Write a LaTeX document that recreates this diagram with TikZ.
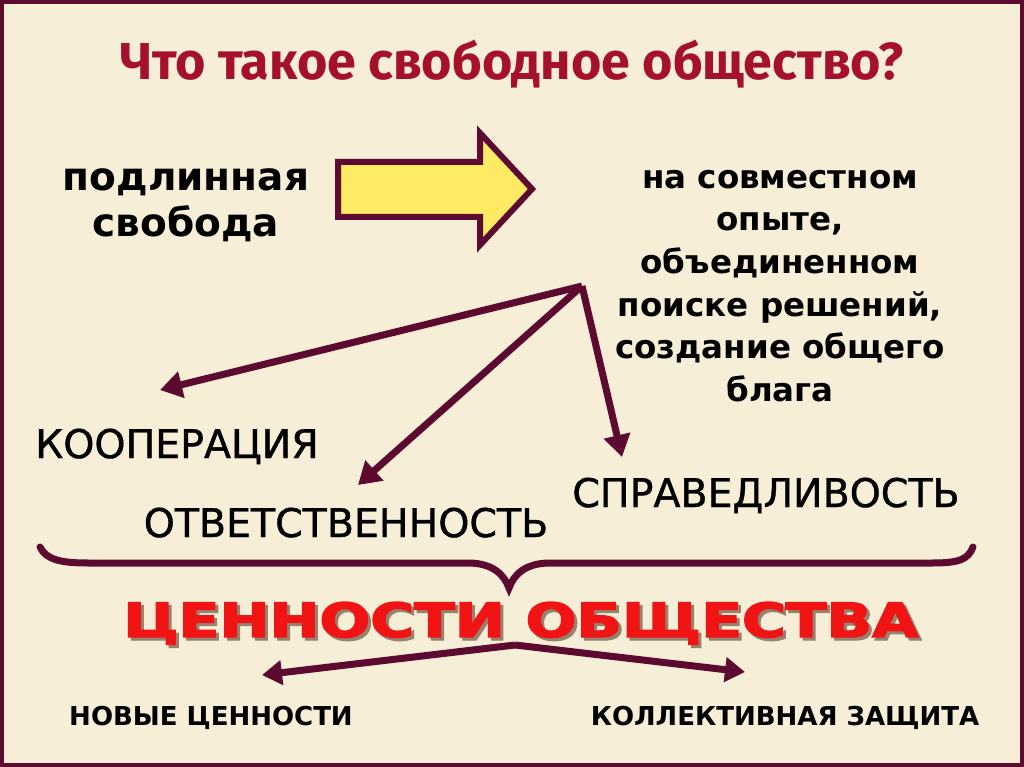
\documentclass[tikz,border=0pt]{standalone}
\usepackage{fontspec}
\setmainfont{DejaVu Sans}
\newfontfamily\titlefont{Fira Sans}
\newfontfamily\labelfont[FakeBold=1]{DejaVu Sans}
\newfontfamily\bannerfont[FakeBold=3]{DejaVu Sans}
\usetikzlibrary{arrows.meta}
\definecolor{wine}{RGB}{92,10,48}
\definecolor{paper}{RGB}{246,238,214}
\definecolor{titlered}{RGB}{165,16,44}
\definecolor{bigyellow}{RGB}{255,234,100}
\definecolor{bannerred}{RGB}{240,20,20}
\definecolor{bannershade}{RGB}{150,130,110}

\newcommand{\bannertext}{\resizebox{795pt}{35pt}{\bannerfont\bfseries ЦЕННОСТИ ОБЩЕСТВА}}

\tikzset{
  link/.style={wine, line width=7pt, -{Triangle[length=22pt,width=26pt]}},
  smalllink/.style={wine, line width=7pt, -{Triangle[length=20pt,width=24pt]}},
  word/.style={inner sep=0pt, anchor=base, font=\labelfont\fontsize{39.5}{40}\selectfont},
  smallword/.style={inner sep=0pt, anchor=base, font=\bfseries\fontsize{26}{30}\selectfont}
}

\begin{document}
\begin{tikzpicture}[x=1pt,y=-1pt]
\useasboundingbox (0,0) rectangle (1024,767);
\fill[paper] (0,0) rectangle (1024,767);
\draw[wine,line width=4pt] (2,2) rectangle (1022,765);

% title
\node[inner sep=0pt, anchor=base, titlered, font=\titlefont\bfseries\fontsize{52}{54}\selectfont] (title) at (512,80) {Что такое свободное общество?};

% top row
\node[inner sep=0pt, align=center, font=\bfseries\fontsize{39}{46}\selectfont] (freedom) at (186,205) {подлинная\\свобода};
\filldraw[fill=bigyellow, draw=wine, line width=6pt, line join=miter]
  (338,162) -- (480,162) -- (480,133) -- (532,189) -- (480,245) -- (480,217) -- (338,217) -- cycle;
\node[inner sep=0pt, align=center, font=\bfseries\fontsize{32.5}{42.6}\selectfont] (basis) at (780,286)
  {на совместном\\опыте,\\объединенном\\поиске решений,\\создание общего\\блага};

% values
\node[word] (coop) at (177,458) {КООПЕРАЦИЯ};
\node[word] (resp) at (346,537) {ОТВЕТСТВЕННОСТЬ};
\node[word] (just) at (766,507) {СПРАВЕДЛИВОСТЬ};

\coordinate (hub) at (582,286);
\coordinate (tipcoop) at (160,390);
\coordinate (tipresp) at (358,485);
\coordinate (tipjust) at (622,457);
\draw[link] (hub) -- (tipcoop);
\draw[link] (hub) -- (tipresp);
\draw[link] (hub) -- (tipjust);

% brace
\draw[wine, line width=7pt, line cap=round]
  (40,547) .. controls (46,560) and (62,563) .. (88,563) -- (468,563)
  .. controls (492,563) and (504,574) .. (509,588)
  .. controls (514,574) and (526,563) .. (550,563) -- (932,563)
  .. controls (958,563) and (968,560) .. (973,547);

% banner with its shadow in one node
\node[inner sep=0pt, anchor=base west] (banner) at (123,637)
  {\makebox[0pt][l]{\hspace{3pt}\raisebox{-3pt}{\color{bannershade}\bannertext}}\color{bannerred}\bannertext};

% bottom
\node[smallword] (newvalues) at (211,725) {НОВЫЕ ЦЕННОСТИ};
\node[smallword] (defence) at (785,725) {КОЛЛЕКТИВНАЯ ЗАЩИТА};
\coordinate (bottomhub) at (515,645);
\coordinate (tipnew) at (262,675);
\coordinate (tipdef) at (745,672);
\draw[smalllink] (bottomhub) -- (tipnew);
\draw[smalllink] (bottomhub) -- (tipdef);

\end{tikzpicture}
\end{document}
